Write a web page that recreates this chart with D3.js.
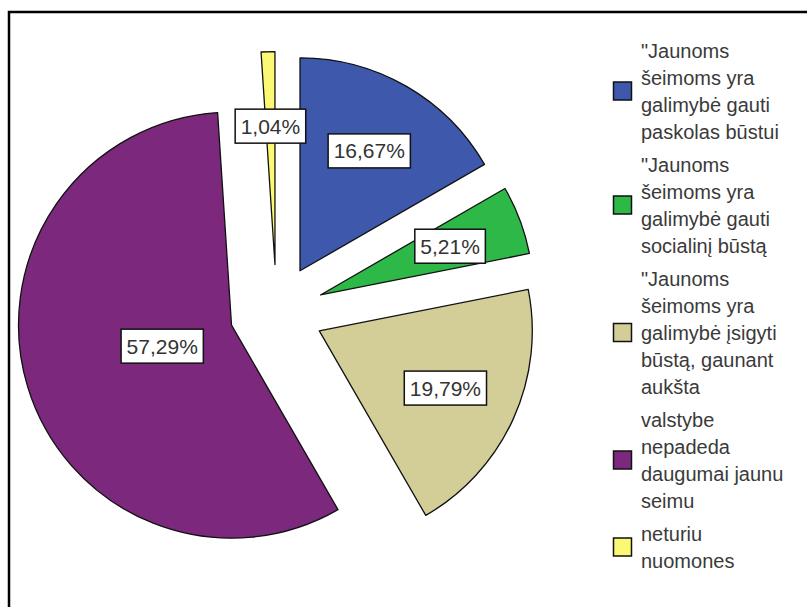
<!DOCTYPE html>
<html>
<head><meta charset="utf-8"><title>Pie</title></head>
<body style="margin:0;background:#fff">
<style>
  body { font-family: "Liberation Sans", Arial, Helvetica, sans-serif; }
  text { font-family: "Liberation Sans", Arial, Helvetica, sans-serif; }
</style>
<svg id="chart" width="807" height="607"></svg>
<script src="https://d3js.org/d3.v7.min.js"></script>
<script>

// chart values (percent), clockwise from 12 o'clock
let categories = [
  ["\"Jaunoms", "šeimoms yra", "galimybė gauti", "paskolas būstui"],
  ["\"Jaunoms", "šeimoms yra", "galimybė gauti", "socialinį būstą"],
  ["\"Jaunoms", "šeimoms yra", "galimybė įsigyti", "būstą, gaunant", "aukšta"],
  ["valstybe", "nepadeda", "daugumai jaunu", "seimu"],
  ["neturiu", "nuomones"]
];
let values = [16.67, 5.21, 19.79, 57.29, 1.04];
let colors = ["#3e58ac", "#2eb848", "#d3ce97", "#7c287d", "#fbf873"];

let ltLocale = d3.formatLocale({decimal: ",", thousands: " ", grouping: [3], currency: ["", ""]});
let pct = v => ltLocale.format(".2f")(v) + "%";

let svg = d3.select("#chart");

// outer frame (cropped at the right and bottom)
svg.append("rect")
  .attr("x", 9).attr("y", 12)
  .attr("width", 900).attr("height", 700)
  .attr("fill", "none").attr("stroke", "#000").attr("stroke-width", 2.5);

let cx = 276.5, cy = 311.5;
let radius = 213;
let explode = 47;

let pie = d3.pie().sort(null).value(d => d.value);
let arcs = pie(values.map((v, i) => ({value: v, i: i})));
let arc = d3.arc().innerRadius(0).outerRadius(radius);

function offset(d, dist) {
  let a = (d.startAngle + d.endAngle) / 2;
  return [Math.sin(a) * dist, -Math.cos(a) * dist];
}

let root = svg.append("g").attr("transform", "translate(" + cx + "," + cy + ")");

root.selectAll("path.slice")
  .data(arcs)
  .enter()
  .append("path")
    .attr("class", "slice")
    .attr("d", arc)
    .attr("transform", d => "translate(" + offset(d, explode) + ")")
    .attr("fill", d => colors[d.data.i])
    .attr("stroke", "#111")
    .attr("stroke-width", 1.3)
    .attr("stroke-linejoin", "round");

// value labels in white boxes
let lab = root.selectAll("g.lab")
  .data(arcs)
  .enter()
  .append("g")
    .attr("class", "lab")
    .attr("transform", d => {
      let o = offset(d, explode);
      let r = d.data.value > 50 ? 0.34 * radius : 0.65 * radius;
      let p = offset(d, r);
      return "translate(" + (o[0] + p[0]) + "," + (o[1] + p[1]) + ")";
    });

lab.each(function(d) {
  let g = d3.select(this);
  let t = g.append("text")
    .attr("text-anchor", "middle")
    .attr("dy", "0.36em")
    .style("font-size", "21px")
    .attr("fill", "#333")
    .text(pct(d.data.value));
  let bb = t.node().getBBox();
  g.insert("rect", "text")
    .attr("x", bb.x - 5.5)
    .attr("y", -17)
    .attr("width", bb.width + 11)
    .attr("height", 34)
    .attr("fill", "#fff")
    .attr("stroke", "#111")
    .attr("stroke-width", 1.5);
});

// legend
let lineH = 27, itemGap = 33;
let legend = svg.append("g");
let y = 58;
categories.forEach((lines, i) => {
  let first = y;
  let last = y + (lines.length - 1) * lineH;
  let mid = (first + last) / 2 - 7.5;
  legend.append("rect")
    .attr("x", 613.5).attr("y", mid - 9)
    .attr("width", 18).attr("height", 18)
    .attr("fill", colors[i])
    .attr("stroke", "#111").attr("stroke-width", 1.5);
  let t = legend.append("text")
    .attr("x", 641)
    .attr("y", first)
    .style("font-size", "20px")
    .attr("fill", "#3a3a3a");
  lines.forEach((s, k) => {
    t.append("tspan").attr("x", 641).attr("y", first + k * lineH).text(s);
  });
  y = last + itemGap;
});

</script>
</body>
</html>
